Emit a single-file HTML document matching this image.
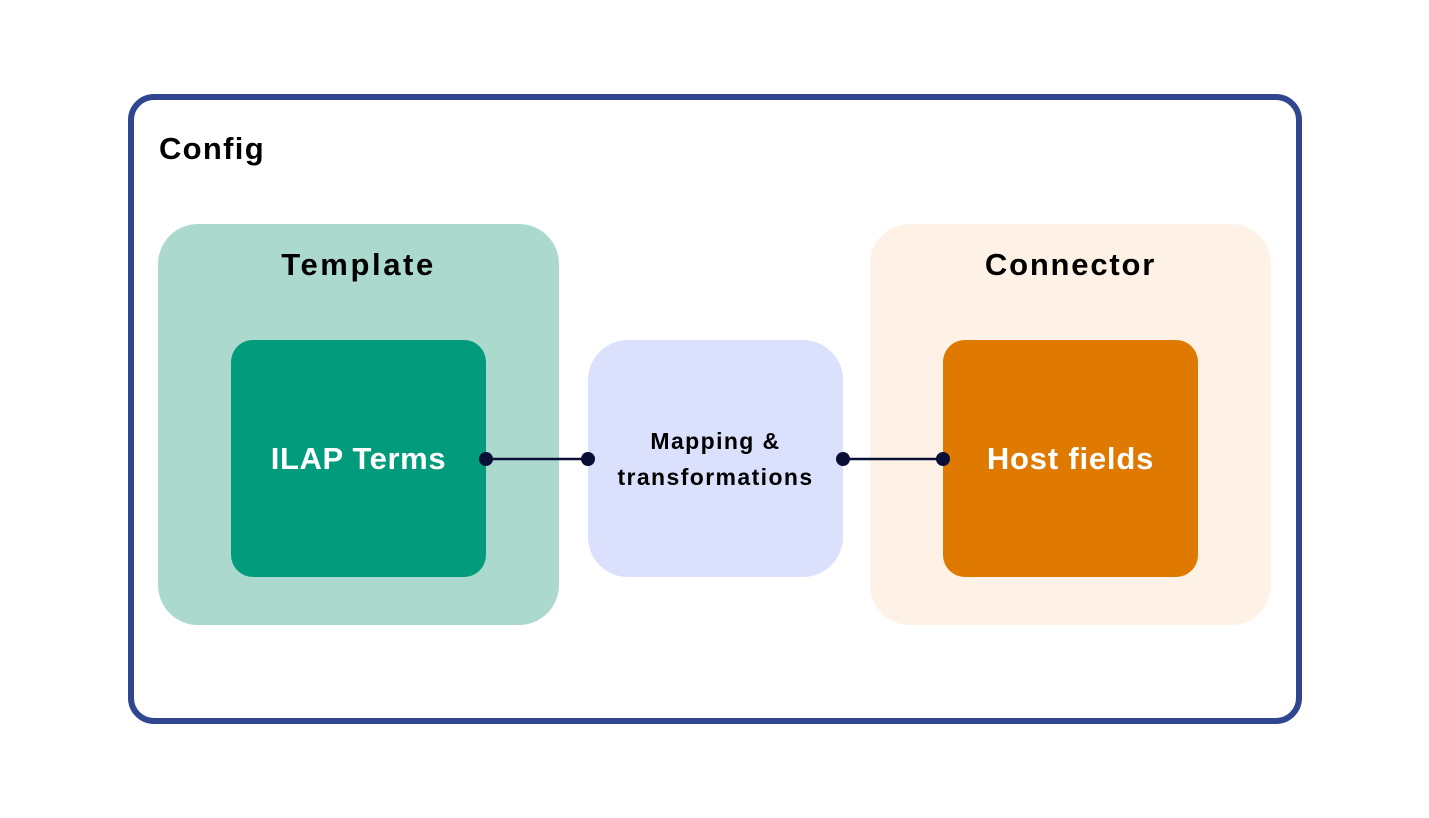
<!DOCTYPE html>
<html><head><style>
html,body{margin:0;padding:0;background:#fff;}
body{width:1429px;height:818px;position:relative;overflow:hidden;font-family:"Liberation Sans",sans-serif;font-weight:bold;}
.a{position:absolute;box-sizing:border-box;}
.t{position:absolute;text-align:center;white-space:nowrap;}
</style></head><body>
<div class="a" style="left:128px;top:94px;width:1174px;height:630px;border:6px solid #304790;border-radius:26px;"></div>
<div class="t" style="left:159px;top:131px;font-size:31px;color:#000;letter-spacing:1.3px;">Config</div>
<div class="a" style="left:158px;top:224px;width:401px;height:401px;background:#acd9cd;border-radius:40px;"></div>
<div class="t" style="left:158px;top:247px;width:401px;font-size:31px;color:#000;letter-spacing:2.6px;">Template</div>
<div class="a" style="left:231px;top:340px;width:255px;height:237px;background:#029c7c;border-radius:22px;"></div>
<div class="t" style="left:231px;top:441px;width:255px;font-size:31px;color:#fff;letter-spacing:0.6px;">ILAP Terms</div>
<div class="a" style="left:870px;top:224px;width:401px;height:401px;background:#fef2e6;border-radius:40px;"></div>
<div class="t" style="left:870px;top:247px;width:401px;font-size:31px;color:#000;letter-spacing:1.8px;">Connector</div>
<div class="a" style="left:943px;top:340px;width:255px;height:237px;background:#e07900;border-radius:22px;"></div>
<div class="t" style="left:943px;top:441px;width:255px;font-size:31px;color:#fff;letter-spacing:0.8px;">Host fields</div>
<div class="a" style="left:588px;top:340px;width:255px;height:237px;background:#dbe1fd;border-radius:40px;"></div>
<div class="t" style="left:588px;top:423px;width:255px;font-size:23px;line-height:36px;color:#000;letter-spacing:1.4px;">Mapping &amp;<br>transformations</div>
<svg class="a" style="left:0;top:0" width="1429" height="818">
<g stroke="#0a1035" stroke-width="2.5"><line x1="486" y1="459" x2="588" y2="459"/><line x1="843" y1="459" x2="943" y2="459"/></g>
<g fill="#0a1035"><circle cx="486" cy="459" r="7"/><circle cx="588" cy="459" r="7"/><circle cx="843" cy="459" r="7"/><circle cx="943" cy="459" r="7"/></g>
</svg>
</body></html>
